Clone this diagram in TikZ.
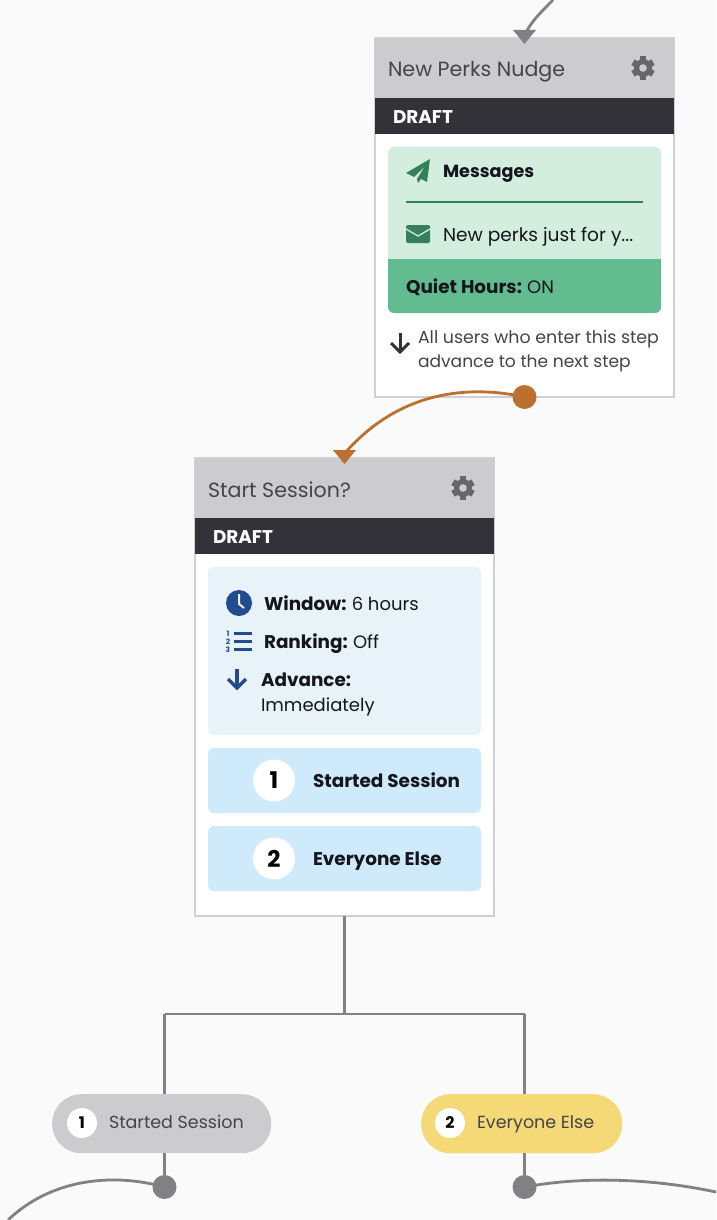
\documentclass[tikz,border=0pt]{standalone}
\usepackage{fontspec}
\setmainfont{Poppins}
\usetikzlibrary{arrows.meta}
\definecolor{bgc}{HTML}{FAFAFA}
\definecolor{hdr}{HTML}{CCCCCE}
\definecolor{edgec}{HTML}{D0D0D2}
\definecolor{darkc}{HTML}{333238}
\definecolor{gearc}{HTML}{66666C}
\definecolor{inkc}{HTML}{44444A}
\definecolor{blackc}{HTML}{14161C}
\definecolor{lgreen}{HTML}{D3EEDF}
\definecolor{mgreen}{HTML}{63BC8F}
\definecolor{dgreen}{HTML}{33805A}
\definecolor{lblue}{HTML}{E7F2F9}
\definecolor{optblue}{HTML}{CEEAFB}
\definecolor{navy}{HTML}{234B8F}
\definecolor{orangec}{HTML}{BD6F2D}
\definecolor{linec}{HTML}{808085}
\definecolor{yellowc}{HTML}{F6D977}
\tikzset{
  x=1pt,y=-1pt,
  lbl/.style={anchor=base west,inner sep=0pt,outer sep=0pt},
  fs/.style={font=\fontsize{#1}{#1}\selectfont},
  titlec/.style={lbl,fs=20.6,text=inkc},
  draftc/.style={lbl,text=white,font=\fontsize{18.4}{18.4}\selectfont\bfseries},
  body/.style={lbl,fs=18,text=blackc},
  bodyb/.style={lbl,text=blackc,font=\fontsize{18.4}{18.4}\selectfont\bfseries},
  conn/.style={draw=linec,line width=2.8pt},
  connorange/.style={draw=orangec,line width=2.8pt},
  card/.style={draw=edgec,line width=1.5pt,fill=white},
  pill/.style={anchor=north west,inner sep=0pt,rounded corners=29pt,minimum height=59pt},
  numdot/.style={circle,fill=white,inner sep=0pt,text=black},
  dotc/.style={circle,inner sep=0pt,minimum size=24pt},
}
\newcommand{\gearicon}[3]{%
  \begin{scope}[shift={(#1,#2)}]
    \foreach \a in {0,60,120}{\draw[gearc,line width=6.5pt,rotate=\a] (0,-11.6) -- (0,11.6);}
    \fill[gearc] (0,0) circle (9pt);
    \fill[#3] (0,0) circle (3.8pt);
  \end{scope}}
\begin{document}
\begin{tikzpicture}
\useasboundingbox (0,0) rectangle (716,1220);
\fill[bgc] (0,0) rectangle (716,1220);

% card 1
\draw[card] (375,38) rectangle (674,397);
\fill[hdr] (375,38) rectangle (674,98);
\draw[edgec,line width=1.5pt] (375,38) -- (674,38);
\fill[darkc] (375,98) rectangle (674,134);
\node[titlec] (t1) at (388,77) {New Perks Nudge};
\gearicon{643}{68}{hdr}
\node[draftc] (d1) at (393,123.5) {DRAFT};
\fill[lgreen,rounded corners=6pt] (388,147) rectangle (661,270);
\fill[mgreen,rounded corners=6pt] (388,290) -- (388,313) -- (661,313) -- (661,290) -- cycle;
\fill[mgreen] (388,259) rectangle (661,300);
% plane icon
\fill[dgreen] (430,159) -- (406,173) -- (414,177) -- (425,166) -- (417,179) -- (418,183) -- (421,179) -- (427,182) -- cycle;
\node[lbl,text=blackc,font=\fontsize{17.6}{17.6}\selectfont\bfseries] (m1) at (443,177.5) {Messages};
\draw[dgreen,line width=1.2pt] (406,202) -- (643,202);
% envelope
\fill[dgreen,rounded corners=1.5pt] (406,225) rectangle (430,243);
\draw[lgreen,line width=1.3pt] (406,229) -- (418,236) -- (430,229);
\node[body,fs=18.6] (m2) at (443,241.5) {New perks just for y...};
\node[bodyb] (q1) at (406,293.5) {Quiet Hours: \mdseries\fontsize{18}{18}\selectfont ON};
% arrow icon
\draw[darkc,line width=3pt] (400,333) -- (400,351);
\draw[darkc,line width=3pt] (391,343) -- (400,352) -- (409,343);
\node[lbl,fs=17.4,text=inkc] (a1) at (418,343.5) {All users who enter this step};
\node[lbl,fs=17.1,text=inkc] (a2) at (418,367.5) {advance to the next step};

% card 2
\draw[card] (195,458) rectangle (494,916);
\fill[hdr] (195,458) rectangle (494,518);
\draw[edgec,line width=1.5pt] (195,458) -- (494,458);
\fill[darkc] (195,518) rectangle (494,554);
\node[titlec] (t2) at (208,497) {Start Session?};
\gearicon{463}{488}{hdr}
\node[draftc] (d2) at (213,543.5) {DRAFT};
\fill[lblue,rounded corners=6pt] (208,567) rectangle (481,735);
% clock
\fill[navy] (239,603) circle (13pt);
\draw[lblue,line width=2pt] (239,594) -- (239,604) -- (244,608);
\node[bodyb] (w1) at (264,610.5) {Window: \mdseries\fontsize{18}{18}\selectfont 6 hours};
% list icon
\foreach \yy/\n in {633/1,641/2,649/3}{
  \node[text=navy,inner sep=0pt,font=\fontsize{7.5}{7.5}\selectfont\bfseries] (n\n) at (228,\yy+.5) {\n};
  \fill[navy] (234,\yy-1.5) rectangle (252,\yy+1.5);
}
\node[bodyb] (r1) at (264,648.5) {Ranking: \mdseries\fontsize{18}{18}\selectfont Off};
% blue arrow
\draw[navy,line width=3.4pt] (237,669) -- (237,688);
\draw[navy,line width=3.4pt] (228,679) -- (237,688) -- (246,679);
\node[bodyb] (v1) at (261,686.5) {Advance:};
\node[body] (v2) at (261,711.5) {Immediately};
% options
\fill[optblue,rounded corners=6pt] (208,748) rectangle (481,813);
\fill[optblue,rounded corners=6pt] (208,826) rectangle (481,891);
\node[numdot,minimum size=42pt,font=\fontsize{23}{23}\selectfont\bfseries] (o1) at (274,780.5) {1};
\node[numdot,minimum size=42pt,font=\fontsize{23}{23}\selectfont\bfseries] (o2) at (274,858.5) {2};
\node[bodyb] (s1) at (313,787.5) {Started Session};
\node[bodyb] (s2) at (313,865.5) {Everyone Else};

% connector anchors
\coordinate (topfree) at (553,0);
\coordinate (tip1) at (526,33);
\coordinate (tip2) at (345,453);
\coordinate (branch) at (344.5,1014);
\coordinate (cardbottom) at (344.5,916);
\coordinate (leftfree) at (8,1220);
\coordinate (rightfree) at (716,1192);
\coordinate (bl) at (164.5,1014);
\coordinate (br) at (524.5,1014);

% connectors
\draw[conn] (topfree) .. controls (541,12) and (530,23) .. (tip1);
\fill[linec] (513,30) -- (536,30) -- (524.5,44) -- cycle;

% pills + dots
\node[pill,fill=hdr,minimum width=219pt] (p1) at (52,1094) {};
\node[pill,fill=yellowc,minimum width=201pt] (p2) at (421,1094) {};
\node[dotc,fill=linec] (e1) at (164.5,1187) {};
\node[dotc,fill=linec] (e2) at (524.5,1187) {};
\node[dotc,fill=orangec] (e0) at (524.5,397) {};

\draw[connorange] (e0.center) .. controls (470,385) and (400,390) .. (tip2);
\fill[orangec] (333,450) -- (356,450) -- (344.5,464) -- cycle;

\draw[conn] (cardbottom) -- (branch);
\draw[conn] (bl) -- (br);
\draw[conn] (bl) -- (bl |- p1.north);
\draw[conn] (br) -- (br |- p2.north);
\draw[conn] (bl |- p1.south) -- (e1);
\draw[conn] (br |- p2.south) -- (e2);
\draw[conn] (e1.center) .. controls (110,1172) and (50,1180) .. (leftfree);
\draw[conn] (e2.center) .. controls (590,1175) and (660,1180) .. (rightfree);

\node[numdot,minimum size=30pt,font=\fontsize{16}{16}\selectfont\bfseries] (c1) at (82,1123) {1};
\node[numdot,minimum size=30pt,font=\fontsize{16}{16}\selectfont\bfseries] (c2) at (450,1123) {2};
\node[lbl,fs=17.5,text=inkc] (pt1) at (109,1128) {Started Session};
\node[lbl,fs=17.5,text=inkc] (pt2) at (477,1128) {Everyone Else};
\end{tikzpicture}
\end{document}
